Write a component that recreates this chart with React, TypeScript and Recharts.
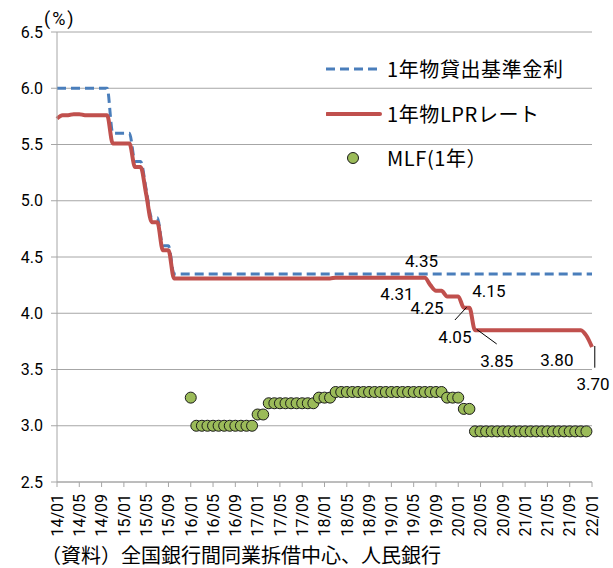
import React from 'react'
import {
  ComposedChart,
  Line,
  Scatter,
  XAxis,
  YAxis,
  CartesianGrid,
  Legend,
  ReferenceDot,
  ReferenceLine,
} from 'recharts'

const NUM_FONT = "Roboto, 'Noto Sans CJK JP', sans-serif"
const JP_FONT = "'Noto Sans CJK JP', sans-serif"
const GRID = '#a6a6a6'
const BLUE = '#4a7ebb'
const RED = '#c0504d'
const GREEN = '#9bbb59'

// x-axis tick labels, one every 4 months (14/01 .. 22/01)
const tickLabels = [
  '14/01', '14/05', '14/09', '15/01', '15/05', '15/09', '16/01', '16/05', '16/09',
  '17/01', '17/05', '17/09', '18/01', '18/05', '18/09', '19/01', '19/05', '19/09',
  '20/01', '20/05', '20/09', '21/01', '21/05', '21/09', '22/01',
]
const yTicks = [2.5, 3.0, 3.5, 4.0, 4.5, 5.0, 5.5, 6.0, 6.5]

// monthly values, 2014/01 .. 2022/01
const lending = [
  6.0, 6.0, 6.0, 6.0, 6.0, 6.0, 6.0, 6.0, 6.0, 6.0, 5.6, 5.6,
  5.6, 5.6, 5.35, 5.35, 5.1, 4.85, 4.85, 4.6, 4.6, 4.35, 4.35, 4.35,
  4.35, 4.35, 4.35, 4.35, 4.35, 4.35, 4.35, 4.35, 4.35, 4.35, 4.35, 4.35,
  4.35, 4.35, 4.35, 4.35, 4.35, 4.35, 4.35, 4.35, 4.35, 4.35, 4.35, 4.35,
  4.35, 4.35, 4.35, 4.35, 4.35, 4.35, 4.35, 4.35, 4.35, 4.35, 4.35, 4.35,
  4.35, 4.35, 4.35, 4.35, 4.35, 4.35, 4.35, 4.35, 4.35, 4.35, 4.35, 4.35,
  4.35, 4.35, 4.35, 4.35, 4.35, 4.35, 4.35, 4.35, 4.35, 4.35, 4.35, 4.35,
  4.35, 4.35, 4.35, 4.35, 4.35, 4.35, 4.35, 4.35, 4.35, 4.35, 4.35, 4.35,
  4.35,
]

const lpr = [
  5.73, 5.76, 5.76, 5.77, 5.77, 5.76, 5.76, 5.76, 5.76, 5.76, 5.51, 5.51,
  5.51, 5.51, 5.3, 5.3, 5.06, 4.81, 4.81, 4.56, 4.56, 4.31, 4.31, 4.31,
  4.31, 4.31, 4.31, 4.31, 4.31, 4.31, 4.31, 4.31, 4.31, 4.31, 4.31, 4.31,
  4.31, 4.31, 4.31, 4.31, 4.31, 4.31, 4.31, 4.31, 4.31, 4.31, 4.31, 4.31,
  4.31, 4.31, 4.315, 4.315, 4.315, 4.315, 4.315, 4.315, 4.315, 4.315, 4.315, 4.315,
  4.315, 4.315, 4.315, 4.315, 4.315, 4.315, 4.315, 4.25, 4.2, 4.2, 4.15, 4.15,
  4.15, 4.05, 4.05, 3.85, 3.85, 3.85, 3.85, 3.85, 3.85, 3.85, 3.85, 3.85,
  3.85, 3.85, 3.85, 3.85, 3.85, 3.85, 3.85, 3.85, 3.85, 3.85, 3.85, 3.8,
  3.7,
]

const mlf = [
  null, null, null, null, null, null, null, null, null, null, null, null,
  null, null, null, null, null, null, null, null, null, null, null, null,
  3.25, 3.0, 3.0, 3.0, 3.0, 3.0, 3.0, 3.0, 3.0, 3.0, 3.0, 3.0,
  3.1, 3.1, 3.2, 3.2, 3.2, 3.2, 3.2, 3.2, 3.2, 3.2, 3.2, 3.25,
  3.25, 3.25, 3.3, 3.3, 3.3, 3.3, 3.3, 3.3, 3.3, 3.3, 3.3, 3.3,
  3.3, 3.3, 3.3, 3.3, 3.3, 3.3, 3.3, 3.3, 3.3, 3.3, 3.25, 3.25,
  3.25, 3.15, 3.15, 2.95, 2.95, 2.95, 2.95, 2.95, 2.95, 2.95, 2.95, 2.95,
  2.95, 2.95, 2.95, 2.95, 2.95, 2.95, 2.95, 2.95, 2.95, 2.95, 2.95, 2.95,
  null,
]

// value callouts: month index, value position, text
const callouts = [
  { text: '4.35', i: 65.4, v: 4.467 },
  { text: '4.31', i: 61.0, v: 4.171 },
  { text: '4.25', i: 66.4, v: 4.044 },
  { text: '4.15', i: 77.5, v: 4.2 },
  { text: '4.05', i: 71.4, v: 3.792 },
  { text: '3.85', i: 78.9, v: 3.578 },
  { text: '3.80', i: 89.7, v: 3.584 },
  { text: '3.70', i: 96.2, v: 3.371 },
]
const leaders = [
  [{ x: 71.4, y: 3.94 }, { x: 73.5, y: 4.053 }],
  [{ x: 75.3, y: 3.857 }, { x: 78.9, y: 3.727 }],
  [{ x: 96.5, y: 3.709 }, { x: 96.5, y: 3.516 }],
]

const rows = lpr.map((v, i) => ({ i, lending: lending[i], lpr: v, mlf: mlf[i] }))
const mlfRows = rows.filter((r) => r.mlf !== null)

const XTick = ({ x, y, payload }: any) => (
  <g transform={`translate(${x},${y + 5})`}>
    <text
      transform="rotate(-90)"
      textAnchor="end"
      dy="0.36em"
      fontSize={16}
      fontFamily={NUM_FONT}
      fill="#000"
    >
      {tickLabels[Math.round(payload.value / 4)]}
    </text>
  </g>
)

const MlfDot = ({ cx, cy }: any) => (
  <circle cx={cx} cy={cy} r={5.5} fill={GREEN} stroke="#1a1a1a" strokeWidth={1} />
)

const legendRow = { display: 'flex', alignItems: 'center', height: 44.5 }

const renderLegend = () => (
  <div style={{ fontFamily: JP_FONT, fontSize: 20, letterSpacing: 0.6, color: '#000', lineHeight: 1 }}>
    <div style={legendRow}>
      <svg width={56} height={20}>
        <line x1={0} y1={10} x2={55} y2={10} stroke={BLUE} strokeWidth={3} strokeDasharray="9 5" />
      </svg>
      <span style={{ marginLeft: 5 }}>1年物貸出基準金利</span>
    </div>
    <div style={legendRow}>
      <svg width={56} height={20}>
        <line x1={1} y1={10} x2={54} y2={10} stroke={RED} strokeWidth={4} strokeLinecap="round" />
      </svg>
      <span style={{ marginLeft: 5 }}>1年物LPRレート</span>
    </div>
    <div style={legendRow}>
      <svg width={56} height={20}>
        <circle cx={27} cy={10} r={5.5} fill={GREEN} stroke="#1a1a1a" strokeWidth={1} />
      </svg>
      <span style={{ marginLeft: 5 }}>MLF(1年）</span>
    </div>
  </div>
)

export default function App() {
  return (
    <div style={{ position: 'absolute', left: 0, top: 0, width: 613, height: 568, background: '#fff' }}>
      <ComposedChart
        width={613}
        height={568}
        data={rows}
        margin={{ top: 32, right: 21, bottom: 26, left: 0 }}
      >
        <CartesianGrid vertical={false} stroke={GRID} />
        <XAxis
          type="number"
          dataKey="i"
          domain={[0, 96]}
          ticks={tickLabels.map((_, k) => k * 4)}
          interval={0}
          height={60}
          tickSize={5}
          stroke={GRID}
          tick={<XTick />}
        />
        <YAxis
          type="number"
          domain={[2.5, 6.5]}
          ticks={yTicks}
          interval={0}
          width={57}
          tickSize={6}
          tickMargin={8}
          stroke={GRID}
          tickFormatter={(v: number) => v.toFixed(1)}
          tick={{ fill: '#000', fontSize: 16, fontFamily: NUM_FONT }}
        />
        <Legend
          layout="vertical"
          align="center"
          verticalAlign="middle"
          content={renderLegend}
          wrapperStyle={{ left: 326, top: 47, width: 280 }}
        />
        <Scatter
          data={mlfRows}
          dataKey="mlf"
          shape={<MlfDot />}
          isAnimationActive={false}
        />
        <Line
          type="monotone"
          dataKey="lending"
          stroke={BLUE}
          strokeWidth={3}
          strokeDasharray="9 5"
          dot={false}
          activeDot={false}
          isAnimationActive={false}
        />
        <Line
          type="monotone"
          dataKey="lpr"
          stroke={RED}
          strokeWidth={4}
          dot={false}
          activeDot={false}
          isAnimationActive={false}
        />
        {leaders.map((seg, k) => (
          <ReferenceLine key={`ld-${k}`} segment={seg} stroke="#000" strokeWidth={1} ifOverflow="visible" />
        ))}
        {callouts.map((c) => (
          <ReferenceDot
            key={c.text}
            x={c.i}
            y={c.v}
            r={0}
            fill="none"
            stroke="none"
            ifOverflow="visible"
            label={{ value: c.text, position: 'center', fontSize: 17, fill: '#000', fontFamily: NUM_FONT }}
          />
        ))}
      </ComposedChart>
      <div
        style={{
          position: 'absolute',
          left: 44,
          top: 8,
          fontSize: 18,
          letterSpacing: 2,
          fontFamily: NUM_FONT,
          color: '#000',
          lineHeight: 1.2,
        }}
      >
        (%)
      </div>
      <div
        style={{
          position: 'absolute',
          left: 41,
          top: 545,
          fontSize: 20,
          fontFamily: JP_FONT,
          color: '#000',
          lineHeight: 1,
          whiteSpace: 'nowrap',
        }}
      >
        （資料）全国銀行間同業拆借中心、人民銀行
      </div>
    </div>
  )
}
